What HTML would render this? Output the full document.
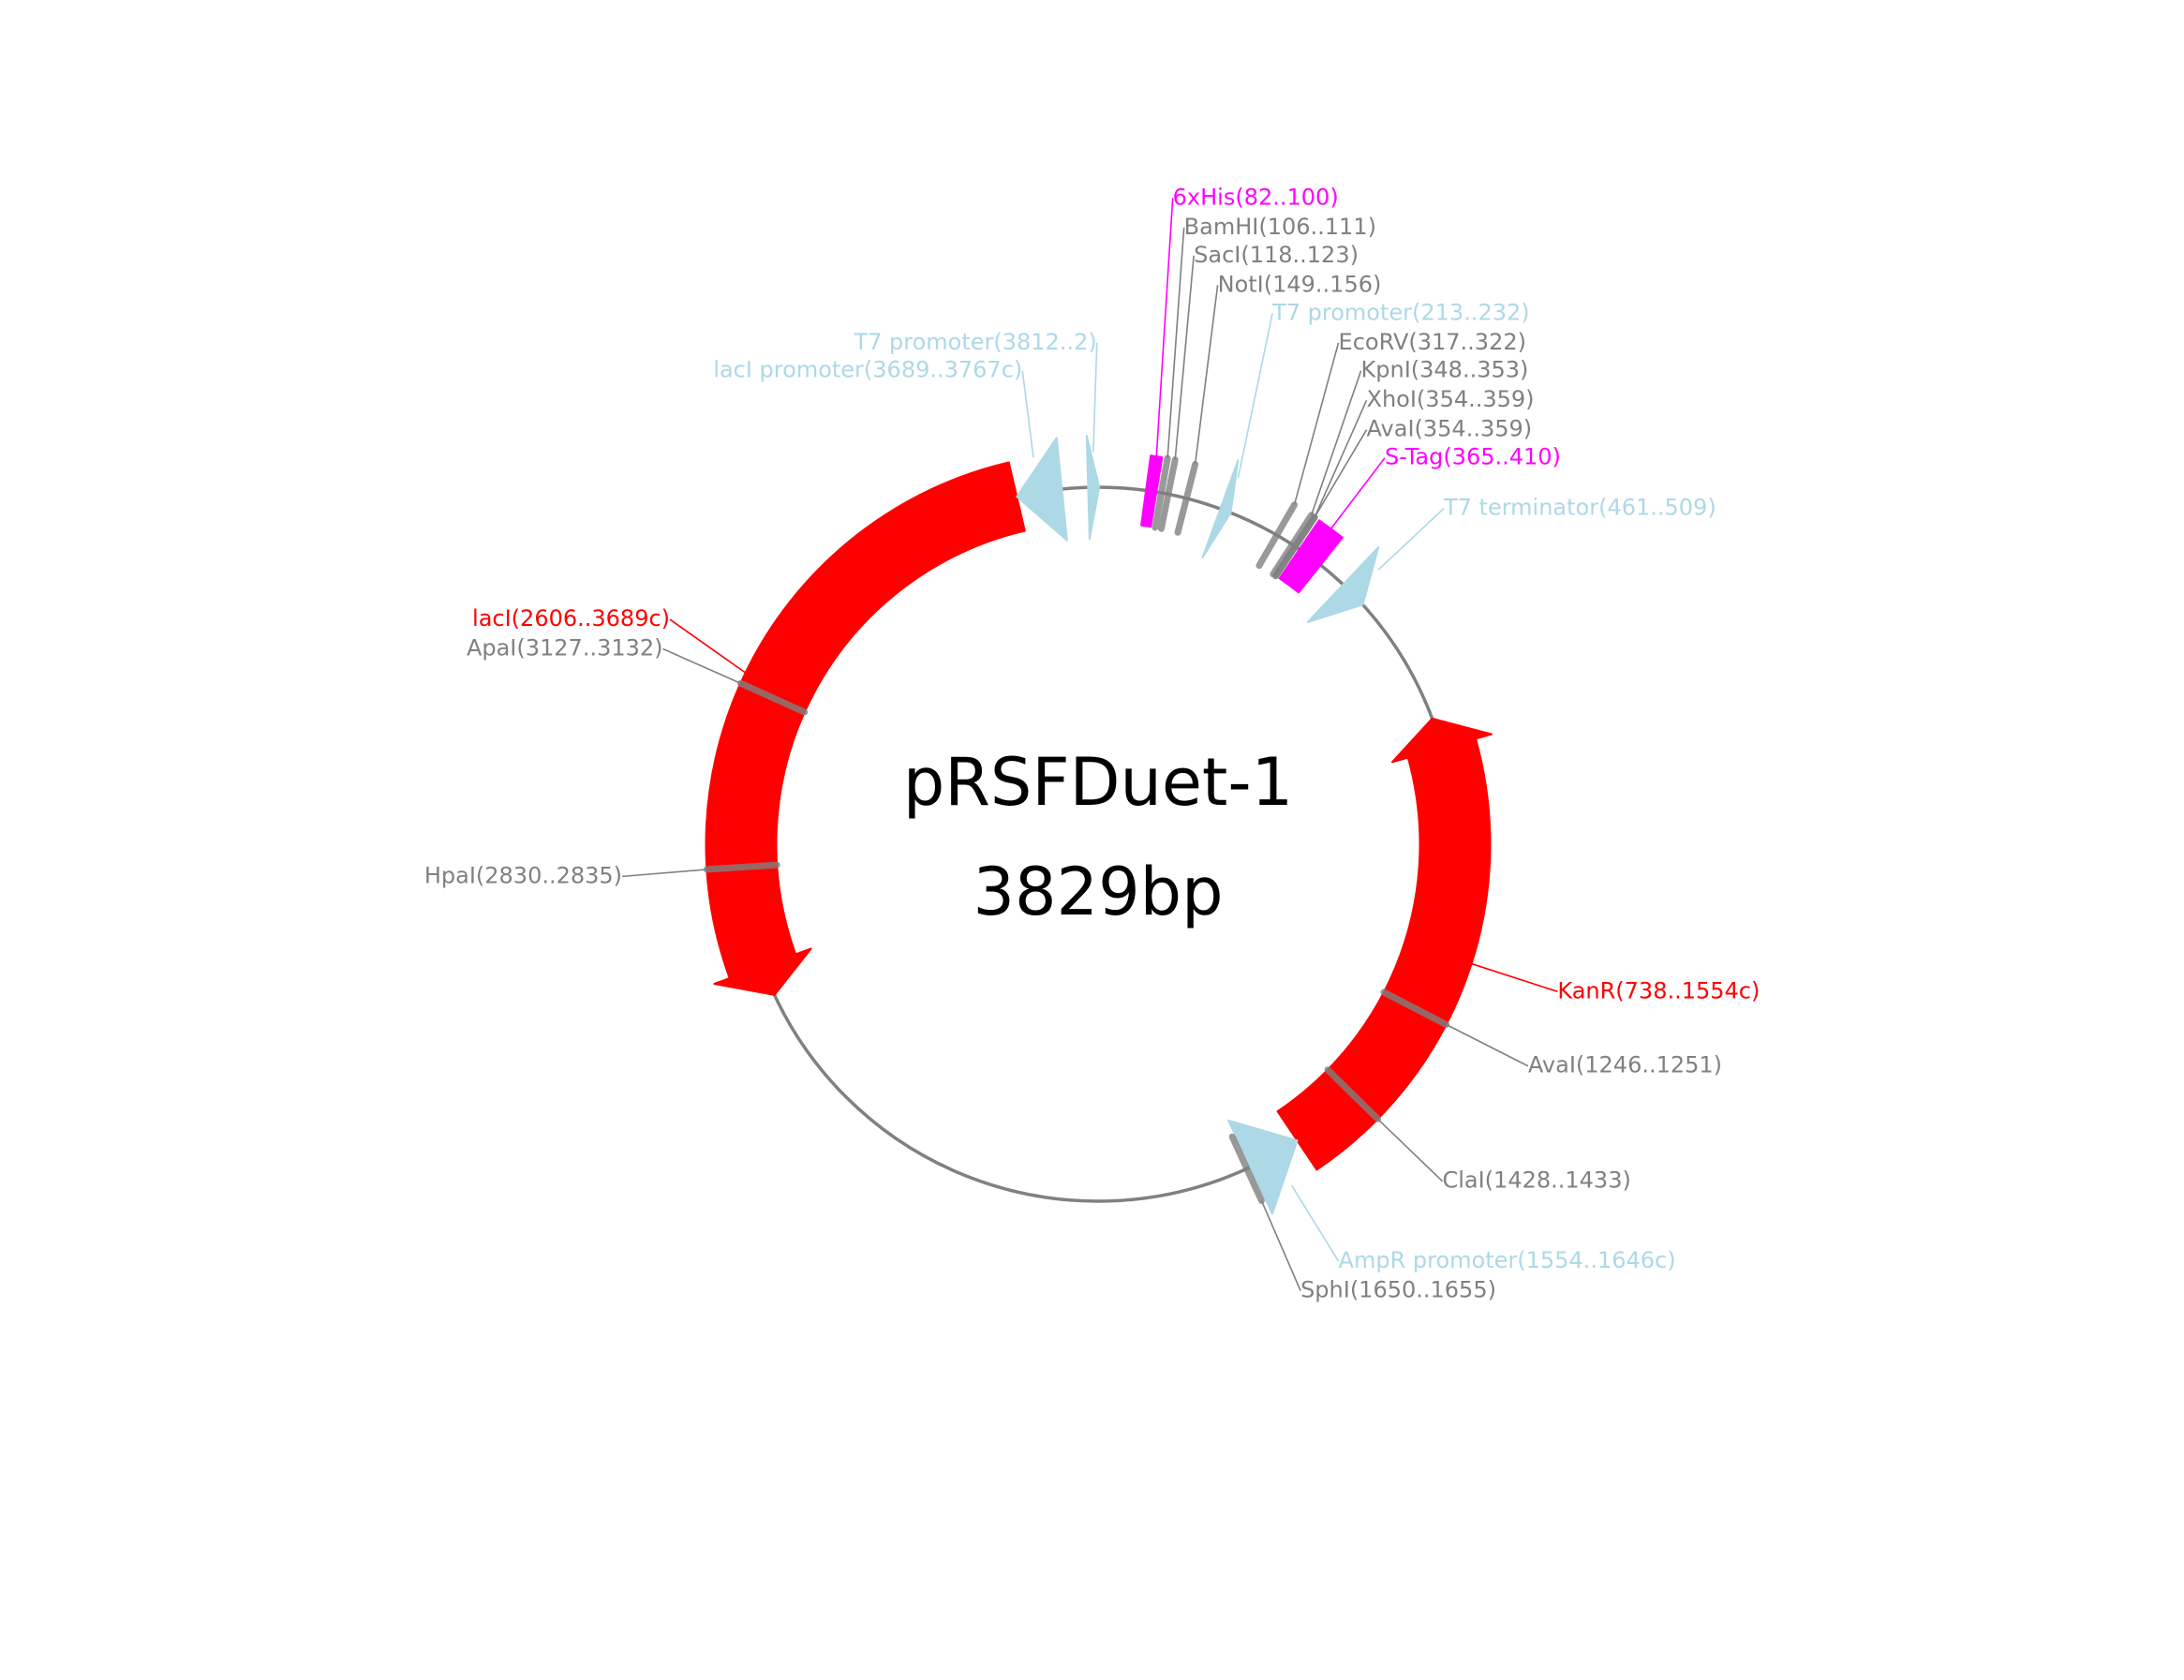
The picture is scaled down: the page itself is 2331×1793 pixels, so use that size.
<!DOCTYPE html>
<html><head><meta charset="utf-8"><style>
html,body{margin:0;padding:0;background:#fff;}
svg{display:block;}
text{font-family:"DejaVu Sans","Liberation Sans",sans-serif;}
</style></head>
<body>
<svg id="map" width="2331" height="1793" viewBox="0 0 2331 1793" xmlns="http://www.w3.org/2000/svg">
<rect width="2331" height="1793" fill="#fff"/>
<circle cx="1172" cy="901" r="381" fill="none" stroke="#808080" stroke-width="3.5"/>
<g id="feat"></g>
<g id="sites"></g>
<g id="labels"></g>
<text x="1172" y="840" font-size="70" text-anchor="middle" dominant-baseline="middle" fill="#000">pRSFDuet-1</text>
<text x="1172" y="957" font-size="70" text-anchor="middle" dominant-baseline="middle" fill="#000">3829bp</text>
</svg>
<script>
const totalLen = 3829;
const featNames = ["6xHis","T7 promoter","T7 promoter","S-Tag","T7 terminator","KanR","AmpR promoter","lacI","lacI promoter"];
const featStart = [82,3812,213,365,461,738,1554,2606,3689];
const featEnd   = [100,2,232,410,509,1554,1646,3689,3767];
const featStrand= [0,1,1,0,1,-1,-1,-1,-1];
const featColor = ["#ff00ff","#add8e6","#add8e6","#ff00ff","#add8e6","#ff0000","#add8e6","#ff0000","#add8e6"];
const siteNames = ["BamHI","SacI","NotI","EcoRV","KpnI","XhoI","AvaI","AvaI","ClaI","SphI","ApaI","HpaI"];
const siteStart = [106,118,149,317,348,354,354,1246,1428,1650,3127,2830];
const siteEnd   = [111,123,156,322,353,359,359,1251,1433,1655,3132,2835];
const S = 1.499;
const labelLayout = [
 ["f",0,835,141,"start"],["s",0,843,162,"start"],["s",1,850,182,"start"],["s",2,867,203,"start"],
 ["f",2,906,223,"start"],["s",3,953,244,"start"],["s",4,969,264,"start"],["s",5,973,285,"start"],
 ["s",6,973,306,"start"],["f",3,986,326,"start"],["f",4,1028,362,"start"],
 ["f",1,781,244,"end"],["f",8,728,264,"end"],["f",7,477,441,"end"],["s",10,472,462,"end"],
 ["s",11,443,624,"end"],["f",5,1109,706,"start"],["s",7,1088,759,"start"],["s",8,1027,841,"start"],
 ["f",6,953,898,"start"],["s",9,926,919,"start"]
];
const CX=1172, CY=901, R=381, BW=37.5, HW=55, HEADDEG=5, TRIDEG=10;
const NS="http://www.w3.org/2000/svg";
function ang(p){ return p/totalLen*360; }
function pt(a,r){ const t=a*Math.PI/180; return [CX+r*Math.sin(t), CY-r*Math.cos(t)]; }
function span(s,e){ let a1=ang(s), a2=ang(e); if(a2<a1) a2+=360; return [a1,a2]; }
function arc(a1,a2,r,sweep){ const p=pt(a2,r); const large=Math.abs(a2-a1)>180?1:0; return `A ${r} ${r} 0 ${large} ${sweep} ${p[0]} ${p[1]}`; }
const fg=document.getElementById('feat');
featNames.forEach((n,i)=>{
  let [a1,a2]=span(featStart[i],featEnd[i]);
  const st=featStrand[i]; let d;
  if(st===0){
    const p1=pt(a1,R+BW), p2=pt(a2,R-BW);
    d=`M ${p1[0]} ${p1[1]} ${arc(a1,a2,R+BW,1)} L ${p2[0]} ${p2[1]} ${arc(a2,a1,R-BW,0)} Z`;
  } else {
    let base=a1, tip=a2; if(st<0){ base=a2; tip=a1; }
    const len=a2-a1;
    if(len<=TRIDEG){
      const b1=pt(base,R+HW), b2=pt(base,R-HW), t=pt(tip,R);
      d=`M ${b1[0]} ${b1[1]} L ${t[0]} ${t[1]} L ${b2[0]} ${b2[1]} Z`;
    } else {
      const hb = st>0 ? tip-HEADDEG : tip+HEADDEG;
      const sw = st>0 ? 1 : 0, sw2 = st>0 ? 0 : 1;
      const o1=pt(base,R+BW), w1=pt(hb,R+HW), t=pt(tip,R), w2=pt(hb,R-HW), i2=pt(hb,R-BW);
      d=`M ${o1[0]} ${o1[1]} ${arc(base,hb,R+BW,sw)} L ${w1[0]} ${w1[1]} L ${t[0]} ${t[1]} L ${w2[0]} ${w2[1]} L ${i2[0]} ${i2[1]} ${arc(hb,base,R-BW,sw2)} Z`;
    }
  }
  const p=document.createElementNS(NS,'path');
  p.setAttribute('d',d); p.setAttribute('fill',featColor[i]);
  p.setAttribute('stroke',featColor[i]); p.setAttribute('stroke-linejoin','round'); p.setAttribute('stroke-width','2');
  
  
  fg.appendChild(p);
});
const sg=document.getElementById('sites');
siteNames.forEach((n,i)=>{
  const a=ang((siteStart[i]+siteEnd[i])/2);
  const p1=pt(a,R-BW), p2=pt(a,R+BW);
  const l=document.createElementNS(NS,'line');
  l.setAttribute('x1',p1[0]);l.setAttribute('y1',p1[1]);l.setAttribute('x2',p2[0]);l.setAttribute('y2',p2[1]);
  l.setAttribute('stroke','#808080'); l.setAttribute('stroke-width','7'); l.setAttribute('stroke-opacity','0.8'); l.setAttribute('stroke-linecap','round');
  
  
  sg.appendChild(l);
});
const lg=document.getElementById('labels');
labelLayout.forEach(L=>{
  const [k,i,dx,dy,anc]=L;
  const x=dx*S, y=dy*S;
  let txt,col,a,r;
  if(k==="f"){
    txt=`${featNames[i]}(${featStart[i]}..${featEnd[i]}${featStrand[i]<0?'c':''})`;
    col=featColor[i]; const [a1,a2]=span(featStart[i],featEnd[i]); a=(a1+a2)/2; r=R+BW;
  } else {
    txt=`${siteNames[i]}(${siteStart[i]}..${siteEnd[i]})`; col="#808080";
    a=ang((siteStart[i]+siteEnd[i])/2); r=R+BW;
  }
  const p=pt(a,r);
  const ln=document.createElementNS(NS,'line');
  ln.setAttribute('x1',x);ln.setAttribute('y1',y);ln.setAttribute('x2',p[0]);ln.setAttribute('y2',p[1]);
  ln.setAttribute('stroke',col);ln.setAttribute('stroke-width','1.6');
  
  
  lg.appendChild(ln);
  const t=document.createElementNS(NS,'text');
  t.setAttribute('x',x);t.setAttribute('y',y);t.setAttribute('fill',col);t.setAttribute('font-size','24');
  t.setAttribute('text-anchor',anc);t.setAttribute('dominant-baseline','middle');
  t.textContent=txt;
  
  
  lg.appendChild(t);
});
</script>
</body></html>
